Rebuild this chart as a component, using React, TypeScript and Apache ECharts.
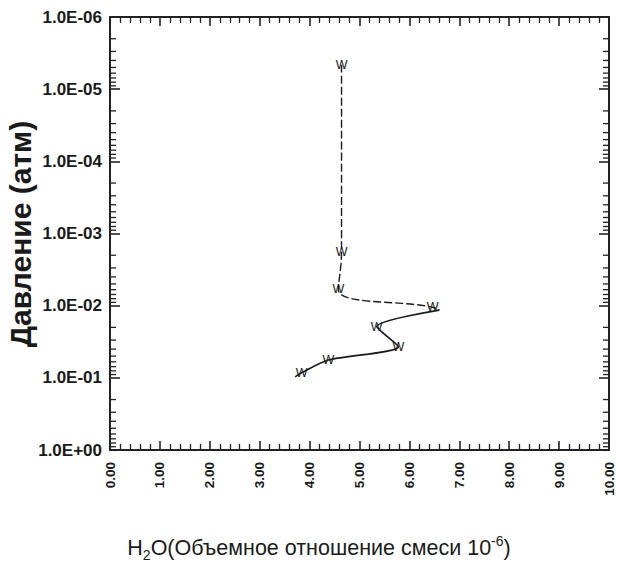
import React, { useEffect, useRef } from "react";
import * as echarts from "echarts";

// Upper (dashed) part of the profile
const h2oDashed = [4.64, 4.64, 4.575, 6.467, 6.6];
const pressureDashed = [4.6e-6, 1.79e-3, 5.93e-3, 1.05e-2, 1.15e-2];
// Lower (solid) part of the profile
const h2oSolid = [6.6, 5.345, 5.78, 4.375, 3.84, 3.71];
const pressureSolid = [1.15e-2, 1.95e-2, 3.7e-2, 5.66e-2, 8.5e-2, 9.7e-2];
// "W" markers
const markerH2O = [4.64, 4.64, 4.575, 6.467, 5.345, 5.78, 4.375, 3.84];
const markerPressure = [4.6e-6, 1.79e-3, 5.93e-3, 1.05e-2, 1.95e-2, 3.7e-2, 5.66e-2, 8.5e-2];

// Axis ticks
const decades = [1e-6, 1e-5, 1e-4, 1e-3, 1e-2, 1e-1];
const minorMultipliers = [2, 3, 4, 5, 6, 7, 8, 9];

const FONT = "'Liberation Sans', Arial, sans-serif";
const INK = "#1a1a1a";
const AXIS = "#222";

function fmtLog(v: number): string {
  const e = Math.round(Math.log10(v));
  return "1.0E" + (e < 0 ? "-" : "+") + String(Math.abs(e)).padStart(2, "0");
}

export default function App() {
  const ref = useRef<HTMLDivElement>(null);
  useEffect(() => {
    if (!ref.current) return;
    const chart = echarts.init(ref.current, null, { renderer: "svg" });
    const minorTicks: number[][] = [];
    decades.forEach((d) => minorMultipliers.forEach((m) => minorTicks.push([0, d * m])));

    const xAxisBase = {
      type: "value",
      min: 0,
      max: 10,
      interval: 1,
      splitLine: { show: false },
      axisLine: { show: true, onZero: false, lineStyle: { color: AXIS, width: 2 } },
      axisTick: { show: true, inside: true, length: 9, lineStyle: { color: AXIS, width: 1.6 } },
      minorTick: { show: true, splitNumber: 5, length: 6, lineStyle: { color: AXIS, width: 1.3 } },
      minorSplitLine: { show: false },
    };
    const yAxisBase = {
      type: "log",
      logBase: 10,
      min: 1e-6,
      max: 1,
      inverse: true,
      splitLine: { show: false },
      axisLine: { show: true, onZero: false, lineStyle: { color: AXIS, width: 2 } },
      axisTick: { show: true, inside: true, length: 10, lineStyle: { color: AXIS, width: 1.6 } },
    };

    const option: any = {
      animation: false,
      backgroundColor: "#fff",
      grid: { left: 110, right: 9, top: 17, bottom: 114, containLabel: false },
      xAxis: [
        {
          ...xAxisBase,
          position: "bottom",
          axisLabel: {
            rotate: 90,
            margin: 12,
            fontSize: 13.5,
            fontWeight: "bold",
            fontFamily: FONT,
            color: INK,
            formatter: (v: number) => v.toFixed(2),
          },
        },
        { ...xAxisBase, position: "top", axisLabel: { show: false } },
      ],
      yAxis: [
        {
          ...yAxisBase,
          position: "left",
          axisLabel: {
            margin: 8,
            fontSize: 17,
            fontWeight: "bold",
            fontFamily: FONT,
            color: INK,
            formatter: fmtLog,
          },
        },
        { ...yAxisBase, position: "right", axisLabel: { show: false } },
      ],
      graphic: [
        {
          type: "text",
          x: 20,
          y: 234,
          rotation: Math.PI / 2,
          style: {
            text: "Давление (атм)",
            fontSize: 30,
            fontWeight: "bold",
            fontFamily: FONT,
            fill: INK,
            align: "center",
            verticalAlign: "middle",
          },
        },
        {
          type: "text",
          x: 319,
          y: 548,
          style: {
            text: "{n|H}{s|2}{n|O(Объемное отношение смеси 10}{p|-6}{n|)}",
            align: "center",
            verticalAlign: "middle",
            fill: INK,
            rich: {
              n: { fontSize: 21.5, fontFamily: FONT, fill: INK, lineHeight: 28, verticalAlign: "middle" },
              s: { fontSize: 14, fontFamily: FONT, fill: INK, lineHeight: 28, verticalAlign: "bottom" },
              p: { fontSize: 14, fontFamily: FONT, fill: INK, lineHeight: 28, verticalAlign: "top" },
            },
          },
        },
      ],
      series: [
        {
          type: "line",
          data: h2oDashed.map((x, i) => [x, pressureDashed[i]]),
          smooth: 0.4,
          showSymbol: false,
          lineStyle: { color: INK, width: 1.4, type: [8, 3] },
          silent: true,
        },
        {
          type: "line",
          data: h2oSolid.map((x, i) => [x, pressureSolid[i]]),
          smooth: 0.25,
          showSymbol: false,
          lineStyle: { color: INK, width: 1.7, type: "solid" },
          silent: true,
        },
        {
          type: "custom",
          data: markerH2O.map((x, i) => [x, markerPressure[i]]),
          clip: false,
          silent: true,
          renderItem: (params: any, api: any) => {
            const p = api.coord([api.value(0), api.value(1)]);
            return {
              type: "text",
              x: p[0],
              y: p[1],
              style: {
                text: "W",
                fontSize: 12.5,
                fontFamily: FONT,
                fill: INK,
                align: "center",
                verticalAlign: "middle",
              },
            };
          },
        },
        {
          type: "custom",
          data: minorTicks,
          clip: false,
          silent: true,
          renderItem: (params: any, api: any) => {
            const v = api.value(1);
            const l = api.coord([0, v]);
            const r = api.coord([10, v]);
            const style = { stroke: AXIS, lineWidth: 1.3 };
            return {
              type: "group",
              children: [
                { type: "line", shape: { x1: l[0], y1: l[1], x2: l[0] + 6, y2: l[1] }, style },
                { type: "line", shape: { x1: r[0], y1: r[1], x2: r[0] - 6, y2: r[1] }, style },
              ],
            };
          },
        },
      ],
    };
    chart.setOption(option);
    return () => chart.dispose();
  }, []);
  return (
    <div
      ref={ref}
      style={{ position: "fixed", left: 0, top: 0, width: 618, height: 564, background: "#fff" }}
    />
  );
}
